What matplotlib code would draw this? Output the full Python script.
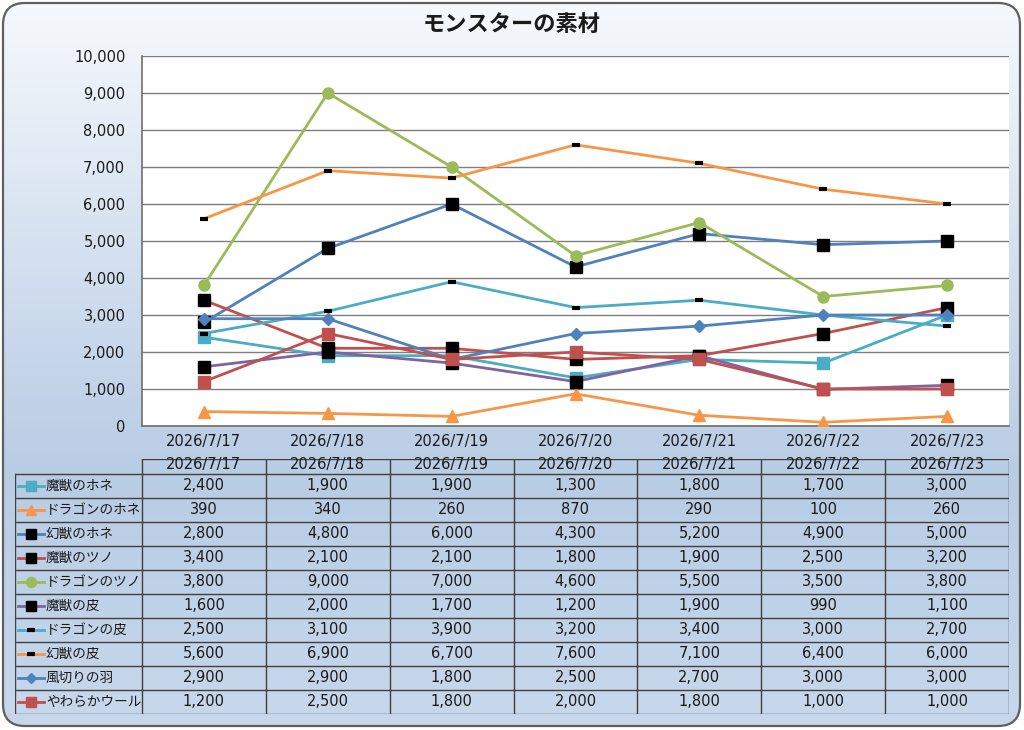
import numpy as np
import matplotlib
matplotlib.use('Agg')
import matplotlib.pyplot as plt
from matplotlib.patches import FancyBboxPatch
from matplotlib.colors import LinearSegmentedColormap

# wide latin digits first, Japanese falls back to Noto CJK
plt.rcParams['font.family'] = ['DejaVu Sans', 'Noto Sans CJK JP']

# Data
dates = ['2026/7/17', '2026/7/18', '2026/7/19', '2026/7/20',
         '2026/7/21', '2026/7/22', '2026/7/23']
names = ['魔獣のホネ', 'ドラゴンのホネ', '幻獣のホネ', '魔獣のツノ', 'ドラゴンのツノ',
         '魔獣の皮', 'ドラゴンの皮', '幻獣の皮', '風切りの羽', 'やわらかウール']
mazyu_hone = [2400, 1900, 1900, 1300, 1800, 1700, 3000]
dragon_hone = [390, 340, 260, 870, 290, 100, 260]
genzyu_hone = [2800, 4800, 6000, 4300, 5200, 4900, 5000]
mazyu_tuno = [3400, 2100, 2100, 1800, 1900, 2500, 3200]
dragon_tuno = [3800, 9000, 7000, 4600, 5500, 3500, 3800]
mazyu_kawa = [1600, 2000, 1700, 1200, 1900, 990, 1100]
dragon_kawa = [2500, 3100, 3900, 3200, 3400, 3000, 2700]
genzyu_kawa = [5600, 6900, 6700, 7600, 7100, 6400, 6000]
kazekiri = [2900, 2900, 1800, 2500, 2700, 3000, 3000]
wool = [1200, 2500, 1800, 2000, 1800, 1000, 1000]
series = [mazyu_hone, dragon_hone, genzyu_hone, mazyu_tuno, dragon_tuno,
          mazyu_kawa, dragon_kawa, genzyu_kawa, kazekiri, wool]

# line color, marker, marker color, marker size, marker edge width
styles = [
    ('#4BACC6', 's', '#4BACC6', 8, 1),
    ('#F79646', '^', '#F79646', 8, 1),
    ('#4F81BD', 's', '#000000', 8, 1),
    ('#C0504D', 's', '#000000', 8, 1),
    ('#9BBB59', 'o', '#9BBB59', 8, 1),
    ('#8064A2', 's', '#000000', 8, 1),
    ('#4BACC6', '_', '#000000', 6, 3),
    ('#F79646', '_', '#000000', 6, 3),
    ('#4F81BD', 'D', '#4F81BD', 6, 1),
    ('#C0504D', 's', '#C0504D', 8, 1),
]

W, H = 1024, 730
fig = plt.figure(figsize=(W / 100, H / 100), dpi=100)

# background with gradient inside a rounded frame
bg = fig.add_axes([0, 0, 1, 1])
bg.set_xlim(0, W)
bg.set_ylim(H, 0)
bg.axis('off')
cmap = LinearSegmentedColormap.from_list(
    'bg', [(0, '#f6f9fc'), (0.45, '#cad9ec'), (0.65, '#b8cce4'), (1, '#c8d8ec')])
grad = np.linspace(0, 1, 256).reshape(-1, 1)
frame = FancyBboxPatch((3, 3), W - 7, H - 7, boxstyle='round,pad=0,rounding_size=22',
                       facecolor='none', edgecolor='#5f5f5f', lw=1.6, zorder=3)
bg.add_patch(frame)
im = bg.imshow(grad, cmap=cmap, aspect='auto', extent=[0, W, H, 0], zorder=1)
im.set_clip_path(frame)

fig.text(0.5, 1 - 24 / H, 'モンスターの素材', ha='center', va='center',
         fontsize=16, fontweight='bold', color='#1a1a1a',
         family=['Noto Sans CJK JP', 'DejaVu Sans'])

# main chart
left, right, top, bottom = 142, 1009, 56, 426
ax = fig.add_axes([left / W, 1 - bottom / H, (right - left) / W, (bottom - top) / H])
ax.set_facecolor('white')
x = np.arange(len(dates))
for vals, name, (lc, mk, mc, ms, mew) in zip(series, names, styles):
    ax.plot(x, vals, color=lc, lw=2, marker=mk, markersize=ms,
            markerfacecolor=mc, markeredgecolor=mc, markeredgewidth=mew,
            label=name, zorder=3)
ax.set_xlim(-0.5, len(dates) - 0.5)
ax.set_ylim(0, 10000)
ax.set_yticks(range(0, 10001, 1000))
ax.set_yticklabels([f'{v:,}' for v in range(0, 10001, 1000)])
ax.set_xticks(x)
ax.set_xticklabels(dates)
ax.grid(axis='y', color='#7f7f7f', lw=1)
ax.set_axisbelow(True)
for s in ['top', 'right']:
    ax.spines[s].set_visible(False)
for s in ['left', 'bottom']:
    ax.spines[s].set_color('#6f6f6f')
    ax.spines[s].set_linewidth(1.2)
ax.tick_params(axis='both', length=0, labelsize=10.5, colors='#1a1a1a')
ax.tick_params(axis='y', pad=12)
ax.tick_params(axis='x', pad=6)

# data table
t_left, t_top, t_bottom = 15, 459, 714
tb = fig.add_axes([t_left / W, 1 - t_bottom / H, (right - t_left) / W, (t_bottom - t_top) / H])
tb.axis('off')
tb.set_xlim(t_left, right)
tb.set_ylim(t_bottom, t_top)
head_h = 15
row_h = (t_bottom - t_top - head_h) / len(names)
col_w = (right - left) / len(dates)
grid_c = '#3f3f3f'
# horizontal lines
tb.plot([left, right], [t_top, t_top], color=grid_c, lw=1)
for i in range(len(names) + 1):
    yy = t_top + head_h + i * row_h
    tb.plot([t_left, right], [yy, yy], color=grid_c, lw=1)
# vertical lines
tb.plot([t_left, t_left], [t_top + head_h, t_bottom], color=grid_c, lw=1)
for j in range(len(dates) + 1):
    xx = left + j * col_w
    tb.plot([xx, xx], [t_top, t_bottom], color=grid_c, lw=1)
# header
for j, d in enumerate(dates):
    tb.text(left + (j + 0.5) * col_w, t_top + head_h / 2 - 2, d,
            ha='center', va='center', fontsize=10.5, color='#1a1a1a')
# rows
for i, (vals, name, (lc, mk, mc, ms, mew)) in enumerate(zip(series, names, styles)):
    yc = t_top + head_h + (i + 0.5) * row_h
    tb.plot([18, 44], [yc, yc], color=lc, lw=2)
    tb.plot([31], [yc], marker=mk, markersize=ms * 0.9, markerfacecolor=mc,
            markeredgecolor=mc, markeredgewidth=mew)
    tb.text(46, yc, name, ha='left', va='center', fontsize=9.8, color='#1a1a1a',
            family=['Noto Sans CJK JP', 'DejaVu Sans'])
    for j, v in enumerate(vals):
        tb.text(left + (j + 0.5) * col_w, yc - 1, f'{v:,}', ha='center', va='center',
                fontsize=10.5, color='#1a1a1a')

fig.savefig('out.png', dpi=100, facecolor='white')
